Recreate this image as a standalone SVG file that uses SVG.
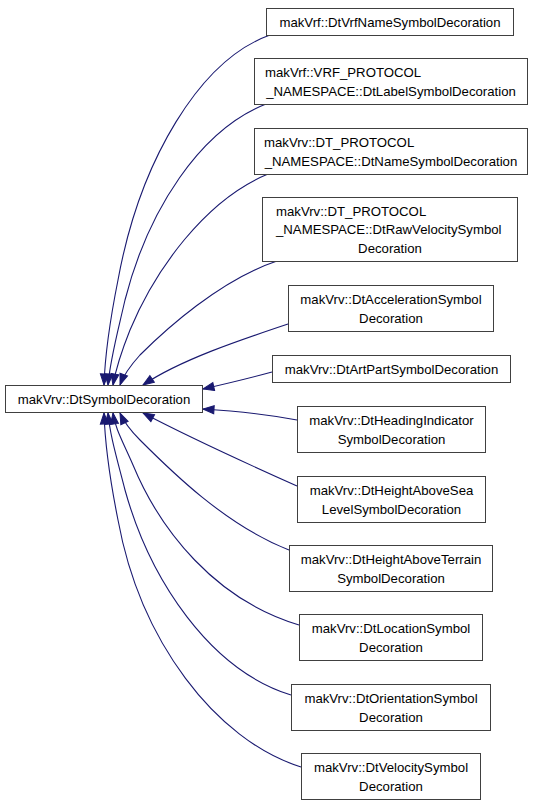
<svg xmlns="http://www.w3.org/2000/svg" width="536" height="805" viewBox="0 0 536 805">
<style>
.box{fill:#ffffff;stroke:#404040;stroke-width:1}
text{font-family:"Liberation Sans",Arial,Helvetica,sans-serif;font-size:13.2px;fill:#000000}
.m{text-anchor:middle}
.s{text-anchor:start}
.edge{fill:none;stroke:#191970;stroke-width:1.1;marker-end:url(#ah)}
</style>
<defs>
<marker id="ah" markerUnits="userSpaceOnUse" markerWidth="12" markerHeight="9" refX="11" refY="4" orient="auto" overflow="visible">
<path d="M0,0 L11,4 L0,8 z" fill="#191970" stroke="#191970" stroke-width="1"/>
</marker>
</defs>
<rect width="536" height="805" fill="#ffffff"/>
<g id="edges">
<path class="edge" d="M270,35 C200,60 140,160 118,280 C110,320 105,355 104,385"/>
<path class="edge" d="M266,104 C200,130 148,210 125,300 C117,335 110,360 108,385"/>
<path class="edge" d="M268,174 C205,200 155,270 130,330 C122,350 116,368 113,385"/>
<path class="edge" d="M277,261 C220,280 165,330 140,355 C130,366 124,374 120,385"/>
<path class="edge" d="M288,324 C240,340 180,360 143,385"/>
<path class="edge" d="M272,372 C250,378 225,384 203,389"/>
<path class="edge" d="M297,420 C265,414 235,411 203,409"/>
<path class="edge" d="M297,486 C250,465 185,435 143,413"/>
<path class="edge" d="M289,550 C225,525 170,470 140,440 C130,430 124,422 120,413"/>
<path class="edge" d="M299,625 C215,600 160,530 133,465 C122,440 115,428 113,413"/>
<path class="edge" d="M291,695 C210,670 150,580 125,490 C116,455 110,435 108,413"/>
<path class="edge" d="M301,767 C215,740 140,640 118,520 C110,480 105,445 104,413"/>
</g>
<g id="main">
<rect class="box" x="5.5" y="385.5" width="197" height="27"/>
<text class="m" x="104" y="403.5">makVrv::DtSymbolDecoration</text>
</g>
<g id="n1">
<rect class="box" x="266.5" y="8.5" width="247" height="27"/>
<text class="m" x="390" y="26.5">makVrf::DtVrfNameSymbolDecoration</text>
</g>
<g id="n2">
<rect class="box" x="254.5" y="58.5" width="273" height="46"/>
<text class="s" x="265" y="77">makVrf::VRF_PROTOCOL</text>
<text class="m" x="391" y="95.5">_NAMESPACE::DtLabelSymbolDecoration</text>
</g>
<g id="n3">
<rect class="box" x="254.5" y="128.5" width="273" height="46"/>
<text class="s" x="264" y="147">makVrv::DT_PROTOCOL</text>
<text class="m" x="391" y="165.5">_NAMESPACE::DtNameSymbolDecoration</text>
</g>
<g id="n4">
<rect class="box" x="262.5" y="197.5" width="255" height="64"/>
<text class="s" x="276" y="215.5">makVrv::DT_PROTOCOL</text>
<text class="s" x="276" y="234">_NAMESPACE::DtRawVelocitySymbol</text>
<text class="m" x="390" y="252.5">Decoration</text>
</g>
<g id="n5">
<rect class="box" x="288.5" y="285.5" width="205" height="46"/>
<text class="m" x="391" y="304">makVrv::DtAccelerationSymbol</text>
<text class="m" x="391" y="322.5">Decoration</text>
</g>
<g id="n6">
<rect class="box" x="272.5" y="355.5" width="238" height="27"/>
<text class="m" x="391.5" y="373.5">makVrv::DtArtPartSymbolDecoration</text>
</g>
<g id="n7">
<rect class="box" x="297.5" y="406.5" width="188" height="46"/>
<text class="m" x="391.5" y="425">makVrv::DtHeadingIndicator</text>
<text class="m" x="391.5" y="443.5">SymbolDecoration</text>
</g>
<g id="n8">
<rect class="box" x="297.5" y="476.5" width="188" height="46"/>
<text class="m" x="391.5" y="495">makVrv::DtHeightAboveSea</text>
<text class="m" x="391.5" y="513.5">LevelSymbolDecoration</text>
</g>
<g id="n9">
<rect class="box" x="289.5" y="545.5" width="203" height="46"/>
<text class="m" x="391" y="564">makVrv::DtHeightAboveTerrain</text>
<text class="m" x="391" y="582.5">SymbolDecoration</text>
</g>
<g id="n10">
<rect class="box" x="299.5" y="614.5" width="183" height="46"/>
<text class="m" x="391" y="633">makVrv::DtLocationSymbol</text>
<text class="m" x="391" y="651.5">Decoration</text>
</g>
<g id="n11">
<rect class="box" x="291.5" y="684.5" width="199" height="46"/>
<text class="m" x="391" y="703">makVrv::DtOrientationSymbol</text>
<text class="m" x="391" y="721.5">Decoration</text>
</g>
<g id="n12">
<rect class="box" x="301.5" y="753.5" width="179" height="46"/>
<text class="m" x="391" y="772">makVrv::DtVelocitySymbol</text>
<text class="m" x="391" y="790.5">Decoration</text>
</g>
</svg>
